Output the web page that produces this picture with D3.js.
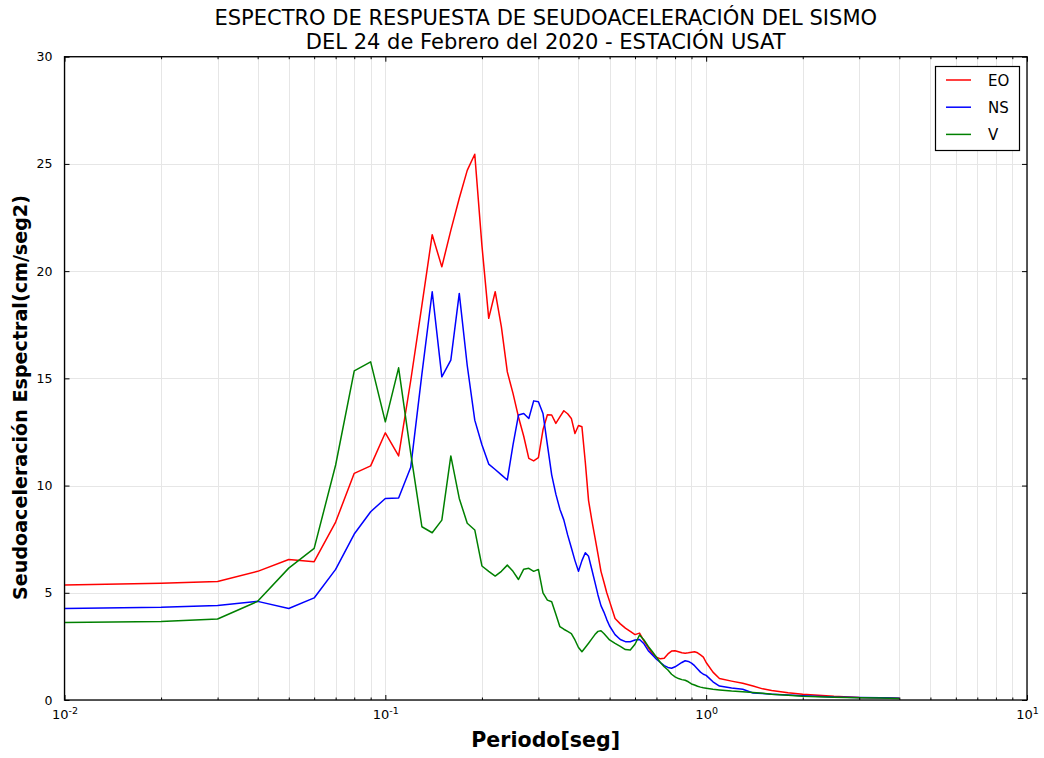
<!DOCTYPE html>
<html>
<head>
<meta charset="utf-8">
<script src="https://cdn.jsdelivr.net/npm/d3@7"></script>
<style>
  html, body { margin: 0; padding: 0; background: #fff; }
  svg { display: block; font-family: "DejaVu Sans", sans-serif; }
</style>
</head>
<body>
<svg id="chart" width="1044" height="758"></svg>
<script>
const titleLines = ["ESPECTRO DE RESPUESTA DE SEUDOACELERACIÓN DEL SISMO", "DEL 24 de Febrero del 2020 - ESTACIÓN USAT"];
const xLabel = "Periodo[seg]";
const yLabel = "Seudoaceleración Espectral(cm/seg2)";
const seriesNames = ["EO", "NS", "V"];
const seriesColors = ["#ff0000", "#0000ff", "#008000"];
const yTicks = [0, 5, 10, 15, 20, 25, 30];
const xMajorExps = [-2, -1, 0, 1];

const periods = [0.01,0.02,0.03,0.04,0.05,0.06,0.07,0.08,0.09,0.10,
  0.11,0.12,0.13,0.14,0.15,0.16,0.17,0.18,0.19,0.20,
  0.21,0.22,0.23,0.24,0.25,0.26,0.27,0.28,0.29,0.30,
  0.31,0.32,0.33,0.34,0.35,0.36,0.37,0.38,0.39,0.40,
  0.41,0.42,0.43,0.44,0.45,0.46,0.47,0.48,0.49,0.50,
  0.52,0.54,0.56,0.58,0.60,0.62,0.64,0.66,0.68,0.70,
  0.72,0.74,0.76,0.78,0.80,0.82,0.84,0.86,0.88,0.90,
  0.92,0.94,0.96,0.98,1.0,
  1.05,1.1,1.2,1.3,1.4,1.5,1.6,1.8,2.0,2.5,3.0,3.5,4.0];

const valuesEO = [5.36,5.44,5.53,6.0,6.55,6.45,8.3,10.57,10.92,12.46,
  11.38,14.9,18.4,21.7,20.2,21.9,23.4,24.7,25.45,21.2,
  17.8,19.04,17.4,15.3,14.3,13.2,12.3,11.27,11.15,11.3,
  12.6,13.3,13.29,12.9,13.2,13.49,13.35,13.13,12.43,12.8,
  12.74,11.1,9.3,8.4,7.6,6.8,6.0,5.5,5.0,4.6,
  3.8,3.55,3.35,3.2,3.05,3.12,2.75,2.45,2.15,2.0,
  1.92,1.95,2.15,2.28,2.3,2.25,2.2,2.18,2.2,2.23,
  2.25,2.2,2.1,2.0,1.75,
  1.3,1.0,0.88,0.78,0.65,0.52,0.44,0.34,0.27,0.17,0.12,0.1,0.08];

const valuesNS = [4.27,4.32,4.41,4.6,4.27,4.76,6.09,7.74,8.78,9.4,
  9.42,10.85,15.2,19.04,15.07,15.85,18.96,15.6,13.05,11.9,
  11.0,10.75,10.5,10.26,11.9,13.29,13.36,13.13,13.95,13.91,
  13.36,11.9,10.5,9.6,8.9,8.4,7.7,7.1,6.5,6.0,
  6.5,6.87,6.7,6.1,5.5,4.9,4.4,4.1,3.75,3.45,
  3.05,2.82,2.72,2.72,2.8,2.82,2.62,2.3,2.1,1.9,
  1.75,1.6,1.52,1.48,1.55,1.65,1.75,1.83,1.8,1.72,
  1.6,1.45,1.3,1.2,1.15,
  0.85,0.65,0.56,0.5,0.33,0.3,0.27,0.23,0.2,0.14,0.12,0.1,0.08];

const valuesV = [3.62,3.66,3.78,4.6,6.15,7.07,10.96,15.35,15.77,12.97,
  15.49,11.5,8.08,7.8,8.39,11.38,9.4,8.24,7.93,6.25,
  6.0,5.78,6.0,6.29,6.0,5.62,6.1,6.14,6.0,6.09,
  5.0,4.66,4.58,4.0,3.42,3.3,3.2,3.1,2.8,2.45,
  2.25,2.45,2.65,2.85,3.05,3.2,3.23,3.1,2.95,2.8,
  2.64,2.5,2.35,2.33,2.6,3.03,2.8,2.5,2.25,2.0,
  1.75,1.55,1.4,1.2,1.08,1.0,0.95,0.92,0.85,0.75,
  0.7,0.64,0.6,0.57,0.55,
  0.5,0.47,0.42,0.39,0.35,0.31,0.27,0.22,0.18,0.13,0.11,0.09,0.07];

const seriesValues = [valuesEO, valuesNS, valuesV];

const svg = d3.select("#chart");
const L = 64.5, R = 1027, T = 56.7, B = 700;
const x = d3.scaleLog().domain([0.01, 10]).range([L, R]);
const y = d3.scaleLinear().domain([0, 30]).range([B, T]);

const minorVals = [];
for (let e = -2; e < 1; e++) for (let m = 2; m <= 9; m++) minorVals.push(m * Math.pow(10, e));
const majorVals = xMajorExps.map(e => Math.pow(10, e));

// grid
const grid = svg.append("g").attr("stroke", "#e6e6e6").attr("stroke-width", 1);
grid.selectAll("line.gx").data(majorVals.concat(minorVals)).join("line")
  .attr("x1", d => Math.round(x(d)) + 0.5).attr("x2", d => Math.round(x(d)) + 0.5)
  .attr("y1", T).attr("y2", B);
grid.selectAll("line.gy").data(yTicks).join("line")
  .attr("x1", L).attr("x2", R)
  .attr("y1", d => Math.round(y(d)) + 0.5).attr("y2", d => Math.round(y(d)) + 0.5);

// lines
const line = d3.line().x(d => x(d[0])).y(d => y(d[1]));
seriesValues.forEach((vals, i) => {
  svg.append("path")
    .datum(periods.map((p, k) => [p, vals[k]]))
    .attr("fill", "none")
    .attr("stroke", seriesColors[i])
    .attr("stroke-width", 1.5)
    .attr("stroke-linejoin", "round")
    .attr("d", line);
});

// axes
function styleAxis(g) {
  g.select(".domain").remove();
  g.selectAll(".tick line").attr("stroke", "#000").attr("stroke-width", 1);
}
// bottom major with labels
const gxb = svg.append("g").attr("transform", `translate(0,${B})`)
  .call(d3.axisBottom(x).tickValues(majorVals).tickSizeInner(-5).tickSizeOuter(0).tickPadding(10).tickFormat(() => ""));
styleAxis(gxb);
gxb.selectAll(".tick text").each(function(d, i) {
  const t = d3.select(this).attr("font-size", 13).attr("fill", "#000").attr("font-family", "DejaVu Sans, sans-serif");
  t.text(null);
  t.append("tspan").text("10");
  t.append("tspan").attr("dy", -5).attr("font-size", 9.5).text(xMajorExps[i] === -2 ? "-2" : xMajorExps[i] === -1 ? "-1" : String(xMajorExps[i]));
});
svg.append("g").attr("transform", `translate(0,${B})`)
  .call(d3.axisBottom(x).tickValues(minorVals).tickSizeInner(-2.5).tickSizeOuter(0).tickFormat(() => ""))
  .call(styleAxis);
svg.append("g").attr("transform", `translate(0,${T})`)
  .call(d3.axisTop(x).tickValues(majorVals).tickSizeInner(-5).tickSizeOuter(0).tickFormat(() => ""))
  .call(styleAxis);
svg.append("g").attr("transform", `translate(0,${T})`)
  .call(d3.axisTop(x).tickValues(minorVals).tickSizeInner(-2.5).tickSizeOuter(0).tickFormat(() => ""))
  .call(styleAxis);
const gyl = svg.append("g").attr("transform", `translate(${L},0)`)
  .call(d3.axisLeft(y).tickValues(yTicks).tickSizeInner(-5).tickSizeOuter(0).tickPadding(12).tickFormat(d3.format("d")));
styleAxis(gyl);
gyl.selectAll(".tick text").attr("font-size", 12.5).attr("fill", "#000").attr("font-family", "DejaVu Sans, sans-serif");
svg.append("g").attr("transform", `translate(${R},0)`)
  .call(d3.axisRight(y).tickValues(yTicks).tickSizeInner(-5).tickSizeOuter(0).tickFormat(() => ""))
  .call(styleAxis);

// frame
svg.append("rect").attr("x", L).attr("y", T).attr("width", R - L).attr("height", B - T)
  .attr("fill", "none").attr("stroke", "#000").attr("stroke-width", 1.3);

// title
function fitText(sel, targetW) {
  const w = sel.node().getComputedTextLength();
  const fs = parseFloat(sel.attr("font-size"));
  sel.attr("font-size", fs * targetW / w);
}
const cx = (L + R) / 2;
const t1 = svg.append("text").attr("x", cx).attr("y", 25).attr("text-anchor", "middle")
  .attr("font-size", 18).attr("fill", "#000").text(titleLines[0]);
fitText(t1, 663);
const t2 = svg.append("text").attr("x", cx).attr("y", 49).attr("text-anchor", "middle")
  .attr("font-size", t1.attr("font-size")).attr("fill", "#000").text(titleLines[1]);

// axis labels
const xl = svg.append("text").attr("x", cx).attr("y", 747).attr("text-anchor", "middle")
  .attr("font-size", 18).attr("font-weight", "bold").attr("fill", "#000").text(xLabel);
fitText(xl, 149);
const yl = svg.append("text").attr("transform", `translate(27,${(195 + 600) / 2}) rotate(-90)`)
  .attr("text-anchor", "middle").attr("font-size", 18).attr("font-weight", "bold").attr("fill", "#000").text(yLabel);
fitText(yl, 405);

// legend
const lg = svg.append("g");
lg.append("rect").attr("x", 935.5).attr("y", 66.5).attr("width", 84).attr("height", 84)
  .attr("fill", "#fff").attr("stroke", "#000").attr("stroke-width", 1.2);
seriesNames.forEach((n, i) => {
  const yy = 80 + i * 27.2;
  lg.append("line").attr("x1", 946).attr("x2", 971).attr("y1", yy).attr("y2", yy)
    .attr("stroke", seriesColors[i]).attr("stroke-width", 1.5);
  lg.append("text").attr("x", 988).attr("y", yy + 5.5).attr("font-size", 15).attr("fill", "#000").text(n);
});
</script>
</body>
</html>
